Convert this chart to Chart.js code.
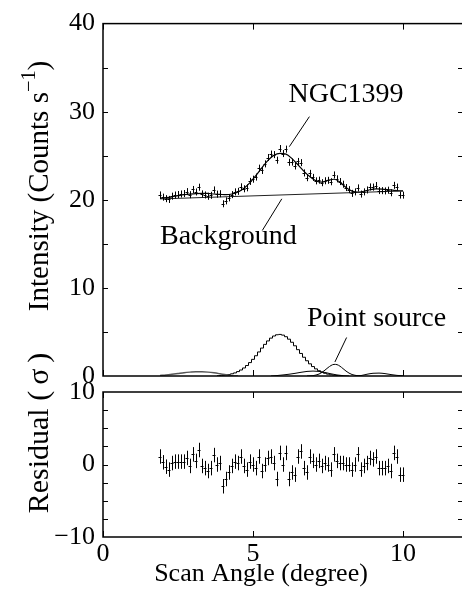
<!DOCTYPE html>
<html>
<head>
<meta charset="utf-8">
<script src="https://cdn.jsdelivr.net/npm/chart.js@4.4.1/dist/chart.umd.min.js"></script>
<style>
  html, body { margin: 0; padding: 0; background: #fff; overflow: hidden; }
  canvas { position: absolute; left: 0; }
  #upper { top: 0; }
  #lower { top: 300px; }
</style>
</head>
<body>
<canvas id="upper" width="470" height="400"></canvas>
<canvas id="lower" width="470" height="296"></canvas>
<script>
// scan angle of each bin (degree)
const angle = [1.9, 2.0, 2.1, 2.2, 2.3, 2.4, 2.5, 2.6, 2.7, 2.8,
  2.9, 3.0, 3.1, 3.2, 3.3, 3.4, 3.5, 3.6, 3.7, 3.8,
  3.9, 4.0, 4.1, 4.2, 4.3, 4.4, 4.5, 4.6, 4.7, 4.8,
  4.9, 5.0, 5.1, 5.2, 5.3, 5.4, 5.5, 5.6, 5.7, 5.8,
  5.9, 6.0, 6.1, 6.2, 6.3, 6.4, 6.5, 6.6, 6.7, 6.8,
  6.9, 7.0, 7.1, 7.2, 7.3, 7.4, 7.5, 7.6, 7.7, 7.8,
  7.9, 8.0, 8.1, 8.2, 8.3, 8.4, 8.5, 8.6, 8.7, 8.8,
  8.9, 9.0, 9.1, 9.2, 9.3, 9.4, 9.5, 9.6, 9.7, 9.8,
  9.9, 10.0];

// observed intensity (counts/s)
const rate = [20.55, 20.30, 20.13, 20.04, 20.41, 20.54, 20.60, 20.66, 20.71, 20.93,
  20.58, 21.17, 20.89, 21.43, 20.67, 20.55, 20.40, 20.51, 21.12, 20.64,
  20.69, 19.55, 19.88, 20.22, 20.59, 20.90, 20.96, 21.47, 21.25, 21.36,
  22.09, 22.34, 22.58, 23.59, 23.33, 24.08, 24.80, 25.19, 25.13, 24.50,
  25.82, 25.25, 25.75, 24.26, 24.28, 23.84, 24.35, 24.22, 23.05, 22.51,
  23.00, 22.54, 22.15, 22.23, 21.94, 22.16, 22.21, 22.05, 22.82, 22.38,
  22.07, 21.77, 21.39, 21.15, 20.73, 20.90, 21.35, 20.65, 20.90, 21.12,
  21.46, 21.44, 21.62, 21.05, 21.04, 21.01, 21.09, 20.80, 21.64, 21.44,
  20.54, 20.53];
const rateErr = 0.4;

// residuals in units of sigma
const resid = [1.1, 0.3, -0.3, -0.7, 0.2, 0.4, 0.4, 0.4, 0.4, 0.9,
  -0.2, 1.4, 0.5, 2.0, -0.2, -0.5, -0.9, -0.5, 1.3, 0.0,
  0.2, -3.0, -2.0, -1.1, -0.2, 0.4, 0.2, 1.1, -0.2, -0.7,
  0.4, 0.0, -0.5, 1.1, -0.9, 0.0, 0.9, 1.1, 0.2, -2.0,
  1.6, 0.0, 1.6, -2.0, -1.1, -1.4, 1.1, 1.8, -0.5, -1.1,
  1.1, 0.5, 0.0, 0.5, -0.2, 0.2, 0.0, -0.7, 1.4, 0.5,
  0.2, 0.2, 0.0, 0.0, -0.7, 0.0, 1.4, -0.7, -0.2, 0.2,
  0.9, 0.7, 1.1, -0.5, -0.5, -0.5, -0.2, -0.9, 1.6, 1.1,
  -1.4, -1.4];
const residErr = 1;
const binHalf = 0.05;

// total model
const modelAngle = [1.9, 2.1, 2.3, 2.5, 2.7, 2.9, 3.1, 3.3, 3.5, 3.7,
  3.9, 4.1, 4.3, 4.5, 4.7, 4.9, 5.1, 5.3, 5.5, 5.7,
  5.9, 6.1, 6.3, 6.5, 6.7, 6.9, 7.1, 7.3, 7.5, 7.7,
  7.9, 8.1, 8.3, 8.5, 8.7, 8.9, 9.1, 9.3, 9.5, 9.7, 9.9, 10.0];
const modelRate = [20.16, 20.24, 20.34, 20.46, 20.57, 20.65, 20.71, 20.74, 20.72, 20.66,
  20.62, 20.58, 20.66, 20.89, 21.32, 21.95, 22.76, 23.65, 24.48, 25.06,
  25.26, 25.19, 24.67, 23.96, 23.23, 22.61, 22.15, 22.01, 22.21, 22.33,
  22.00, 21.39, 20.98, 20.86, 20.97, 21.14, 21.23, 21.22, 21.16, 21.08, 21.03, 21.02];

// background
const bgAngle = [1.9, 10.0];
const bgRate = [20.1, 21.0];

// NGC1399 component
const galAngle = [3.8, 3.9, 4.0, 4.1, 4.2, 4.3, 4.4, 4.5, 4.6, 4.7,
  4.8, 4.9, 5.0, 5.1, 5.2, 5.3, 5.4, 5.5, 5.6, 5.7,
  5.8, 5.9, 6.0, 6.1, 6.2, 6.3, 6.4, 6.5, 6.6, 6.7,
  6.8, 6.9, 7.0, 7.1, 7.2, 7.3, 7.4, 7.5, 7.6, 7.7,
  7.8, 7.9, 8.0];
const galRate = [0.03, 0.05, 0.07, 0.11, 0.17, 0.25, 0.35, 0.50, 0.68, 0.91,
  1.19, 1.52, 1.89, 2.30, 2.73, 3.17, 3.59, 3.98, 4.30, 4.54,
  4.68, 4.72, 4.64, 4.46, 4.18, 3.83, 3.43, 2.99, 2.56, 2.13,
  1.73, 1.38, 1.07, 0.81, 0.60, 0.43, 0.31, 0.21, 0.14, 0.09,
  0.06, 0.04, 0.02];

// other sources
const leftAngle = [1.9, 2.1, 2.3, 2.5, 2.7, 2.9, 3.1, 3.3, 3.5, 3.7, 3.9, 4.1, 4.3, 4.5];
const leftRate = [0.06, 0.12, 0.20, 0.29, 0.38, 0.44, 0.48, 0.48, 0.44, 0.36, 0.25, 0.13, 0.04, 0.0];
const midAngle = [5.6, 5.8, 6.0, 6.2, 6.4, 6.6, 6.8, 7.0, 7.2, 7.4, 7.6, 7.8, 8.0, 8.2];
const midRate = [0.0, 0.05, 0.12, 0.20, 0.30, 0.42, 0.52, 0.56, 0.52, 0.40, 0.25, 0.12, 0.04, 0.0];
const ptAngle = [6.8, 6.9, 7.0, 7.1, 7.2, 7.3, 7.4, 7.5, 7.6, 7.7,
  7.8, 7.9, 8.0, 8.1, 8.2, 8.3, 8.4, 8.5, 8.6];
const ptRate = [0.0, 0.02, 0.04, 0.11, 0.22, 0.41, 0.67, 0.95, 1.19, 1.32,
  1.29, 1.11, 0.84, 0.56, 0.33, 0.17, 0.08, 0.03, 0.0];
const rightAngle = [8.4, 8.6, 8.8, 9.0, 9.2, 9.4, 9.6, 9.8, 10.0];
const rightRate = [0.0, 0.05, 0.20, 0.31, 0.33, 0.27, 0.16, 0.07, 0.02];

const xTicks = [0, 5, 10];
const FONT = "'Liberation Serif', 'Times New Roman', serif";

function pts(xs, ys) {
  return xs.map((x, i) => ({ x: x, y: ys[i] }));
}

function curve(xs, ys, extra) {
  return Object.assign({
    type: 'line',
    data: pts(xs, ys),
    borderColor: '#000',
    borderWidth: 1,
    pointRadius: 0,
    fill: false,
    cubicInterpolationMode: 'monotone'
  }, extra || {});
}

// frame + inward ticks on all four sides
const frame = {
  id: 'frame',
  afterDatasetsDraw(chart, args, opts) {
    const ctx = chart.ctx, a = chart.chartArea;
    const x = chart.scales.x, y = chart.scales.y;
    ctx.save();
    ctx.strokeStyle = '#000';
    ctx.lineWidth = 1.5;
    ctx.strokeRect(a.left, a.top, a.right - a.left, a.bottom - a.top);
    ctx.lineWidth = 1;
    ctx.beginPath();
    opts.yTicks.forEach(v => {
      const py = Math.round(y.getPixelForValue(v)) + 0.5;
      ctx.moveTo(a.left, py); ctx.lineTo(a.left + 5, py);
      ctx.moveTo(a.right, py); ctx.lineTo(a.right - 5, py);
    });
    opts.xTicks.forEach(v => {
      const px = Math.round(x.getPixelForValue(v)) + 0.5;
      ctx.moveTo(px, a.top); ctx.lineTo(px, a.top + 6);
      ctx.moveTo(px, a.bottom); ctx.lineTo(px, a.bottom - 6);
    });
    ctx.stroke();
    ctx.restore();
  }
};

// crosses: bin width horizontally, error vertically
const errorBars = {
  id: 'errorBars',
  afterDatasetsDraw(chart) {
    const ctx = chart.ctx, x = chart.scales.x, y = chart.scales.y;
    chart.data.datasets.forEach(ds => {
      if (ds.yErr === undefined) return;
      ctx.save();
      ctx.strokeStyle = '#000';
      ctx.lineWidth = 1;
      ctx.beginPath();
      ds.data.forEach(p => {
        const px = Math.round(x.getPixelForValue(p.x)) + 0.5;
        const py = Math.round(y.getPixelForValue(p.y)) + 0.5;
        ctx.moveTo(x.getPixelForValue(p.x - ds.xErr), py);
        ctx.lineTo(x.getPixelForValue(p.x + ds.xErr), py);
        ctx.moveTo(px, y.getPixelForValue(p.y - ds.yErr));
        ctx.lineTo(px, y.getPixelForValue(p.y + ds.yErr));
      });
      ctx.stroke();
      ctx.restore();
    });
  }
};

// labels with leader lines (data units) and axis titles (pixels)
const notes = {
  id: 'notes',
  afterDraw(chart, args, opts) {
    const ctx = chart.ctx, x = chart.scales.x, y = chart.scales.y;
    ctx.save();
    ctx.fillStyle = '#000';
    ctx.strokeStyle = '#000';
    ctx.lineWidth = 1;
    (opts.items || []).forEach(n => {
      ctx.font = n.size + 'px ' + FONT;
      ctx.textAlign = 'center';
      ctx.textBaseline = 'alphabetic';
      ctx.fillText(n.text, x.getPixelForValue(n.x), y.getPixelForValue(n.y));
      if (n.line) {
        ctx.beginPath();
        ctx.moveTo(x.getPixelForValue(n.line[0]), y.getPixelForValue(n.line[1]));
        ctx.lineTo(x.getPixelForValue(n.line[2]), y.getPixelForValue(n.line[3]));
        ctx.stroke();
      }
    });
    (opts.titles || []).forEach(t => {
      ctx.save();
      ctx.translate(t.px, t.py);
      if (t.rotate) ctx.rotate(-Math.PI / 2);
      const parts = t.parts;
      let total = 0;
      parts.forEach(p => {
        ctx.font = (p.sup ? t.size * 0.7 : t.size) + 'px ' + FONT;
        p.w = ctx.measureText(p.text).width;
        total += p.w;
      });
      let cx = -total / 2;
      ctx.textAlign = 'left';
      ctx.textBaseline = 'middle';
      parts.forEach(p => {
        ctx.font = (p.sup ? t.size * 0.7 : t.size) + 'px ' + FONT;
        ctx.fillText(p.text, cx, p.sup ? -t.size * 0.35 : 0);
        cx += p.w;
      });
      ctx.restore();
    });
    ctx.restore();
  }
};

const tickFont = { family: FONT, size: 26 };
const minus = v => String(v).replace('-', '\u2212');

new Chart(document.getElementById('upper'), {
  type: 'line',
  data: {
    datasets: [
      curve(bgAngle, bgRate, { borderColor: '#222', cubicInterpolationMode: 'default' }),
      curve(leftAngle, leftRate, { borderColor: '#555', borderWidth: 1.5 }),
      curve(midAngle, midRate),
      curve(ptAngle, ptRate),
      curve(rightAngle, rightRate),
      curve(galAngle, galRate, { stepped: 'middle' }),
      curve(modelAngle, modelRate, { borderWidth: 1.2 }),
      {
        type: 'scatter',
        data: pts(angle, rate),
        pointRadius: 0,
        yErr: rateErr,
        xErr: binHalf
      }
    ]
  },
  options: {
    responsive: false,
    animation: false,
    events: [],
    layout: { padding: { left: 0, top: 16, right: 7, bottom: 24 } },
    scales: {
      x: { type: 'linear', min: 0, max: 12, display: false },
      y: {
        min: 0, max: 40,
        afterFit: s => { s.width = 103; },
        afterBuildTicks: s => { s.ticks = [0, 10, 20, 30, 40].map(v => ({ value: v })); },
        grid: { display: false, drawTicks: false },
        border: { display: false },
        ticks: { font: tickFont, color: '#000', padding: 8 }
      }
    },
    plugins: {
      legend: { display: false },
      tooltip: { enabled: false },
      frame: { yTicks: [5, 10, 15, 20, 25, 30, 35], xTicks: xTicks },
      notes: {
        items: [
          { text: 'NGC1399', x: 8.1, y: 31.1, size: 28, line: [6.88, 29.44, 6.21, 26.03] },
          { text: 'Background', x: 4.18, y: 15.0, size: 28, line: [5.96, 20.11, 5.31, 16.52] },
          { text: 'Point source', x: 9.12, y: 5.7, size: 28, line: [8.12, 4.37, 7.73, 1.59] }
        ],
        titles: [
          { px: 40, py: 186, rotate: true, size: 29,
            parts: [{ text: 'Intensity (Counts s' }, { text: '\u22121', sup: true }, { text: ')' }] }
        ]
      }
    }
  },
  plugins: [frame, errorBars, notes]
});

new Chart(document.getElementById('lower'), {
  type: 'scatter',
  data: {
    datasets: [{
      data: pts(angle, resid),
      pointRadius: 0,
      yErr: residErr,
      xErr: binHalf
    }]
  },
  options: {
    responsive: false,
    animation: false,
    events: [],
    layout: { padding: { left: 0, top: 92, right: 7, bottom: 0 } },
    scales: {
      x: {
        type: 'linear', min: 0, max: 12,
        afterFit: s => { s.height = 59; },
        afterBuildTicks: s => { s.ticks = xTicks.map(v => ({ value: v })); },
        grid: { display: false, drawTicks: false },
        border: { display: false },
        ticks: { font: tickFont, color: '#000', padding: 2, maxRotation: 0 }
      },
      y: {
        min: -10, max: 10,
        afterFit: s => { s.width = 103; },
        afterBuildTicks: s => { s.ticks = [-10, 0, 10].map(v => ({ value: v })); },
        grid: { display: false, drawTicks: false },
        border: { display: false },
        ticks: { font: tickFont, color: '#000', padding: 8, callback: minus }
      }
    },
    plugins: {
      legend: { display: false },
      tooltip: { enabled: false },
      frame: { yTicks: [-7.5, -5, -2.5, 0, 2.5, 5, 7.5], xTicks: xTicks },
      notes: {
        titles: [
          { px: 40, py: 133, rotate: true, size: 30,
            parts: [{ text: 'Residual (' }, { text: '\u2009\u03c3\u2009' }, { text: ')' }] },
          { px: 261, py: 274, rotate: false, size: 26,
            parts: [{ text: 'Scan Angle (degree)' }] }
        ]
      }
    }
  },
  plugins: [frame, errorBars, notes]
});
</script>
</body>
</html>
